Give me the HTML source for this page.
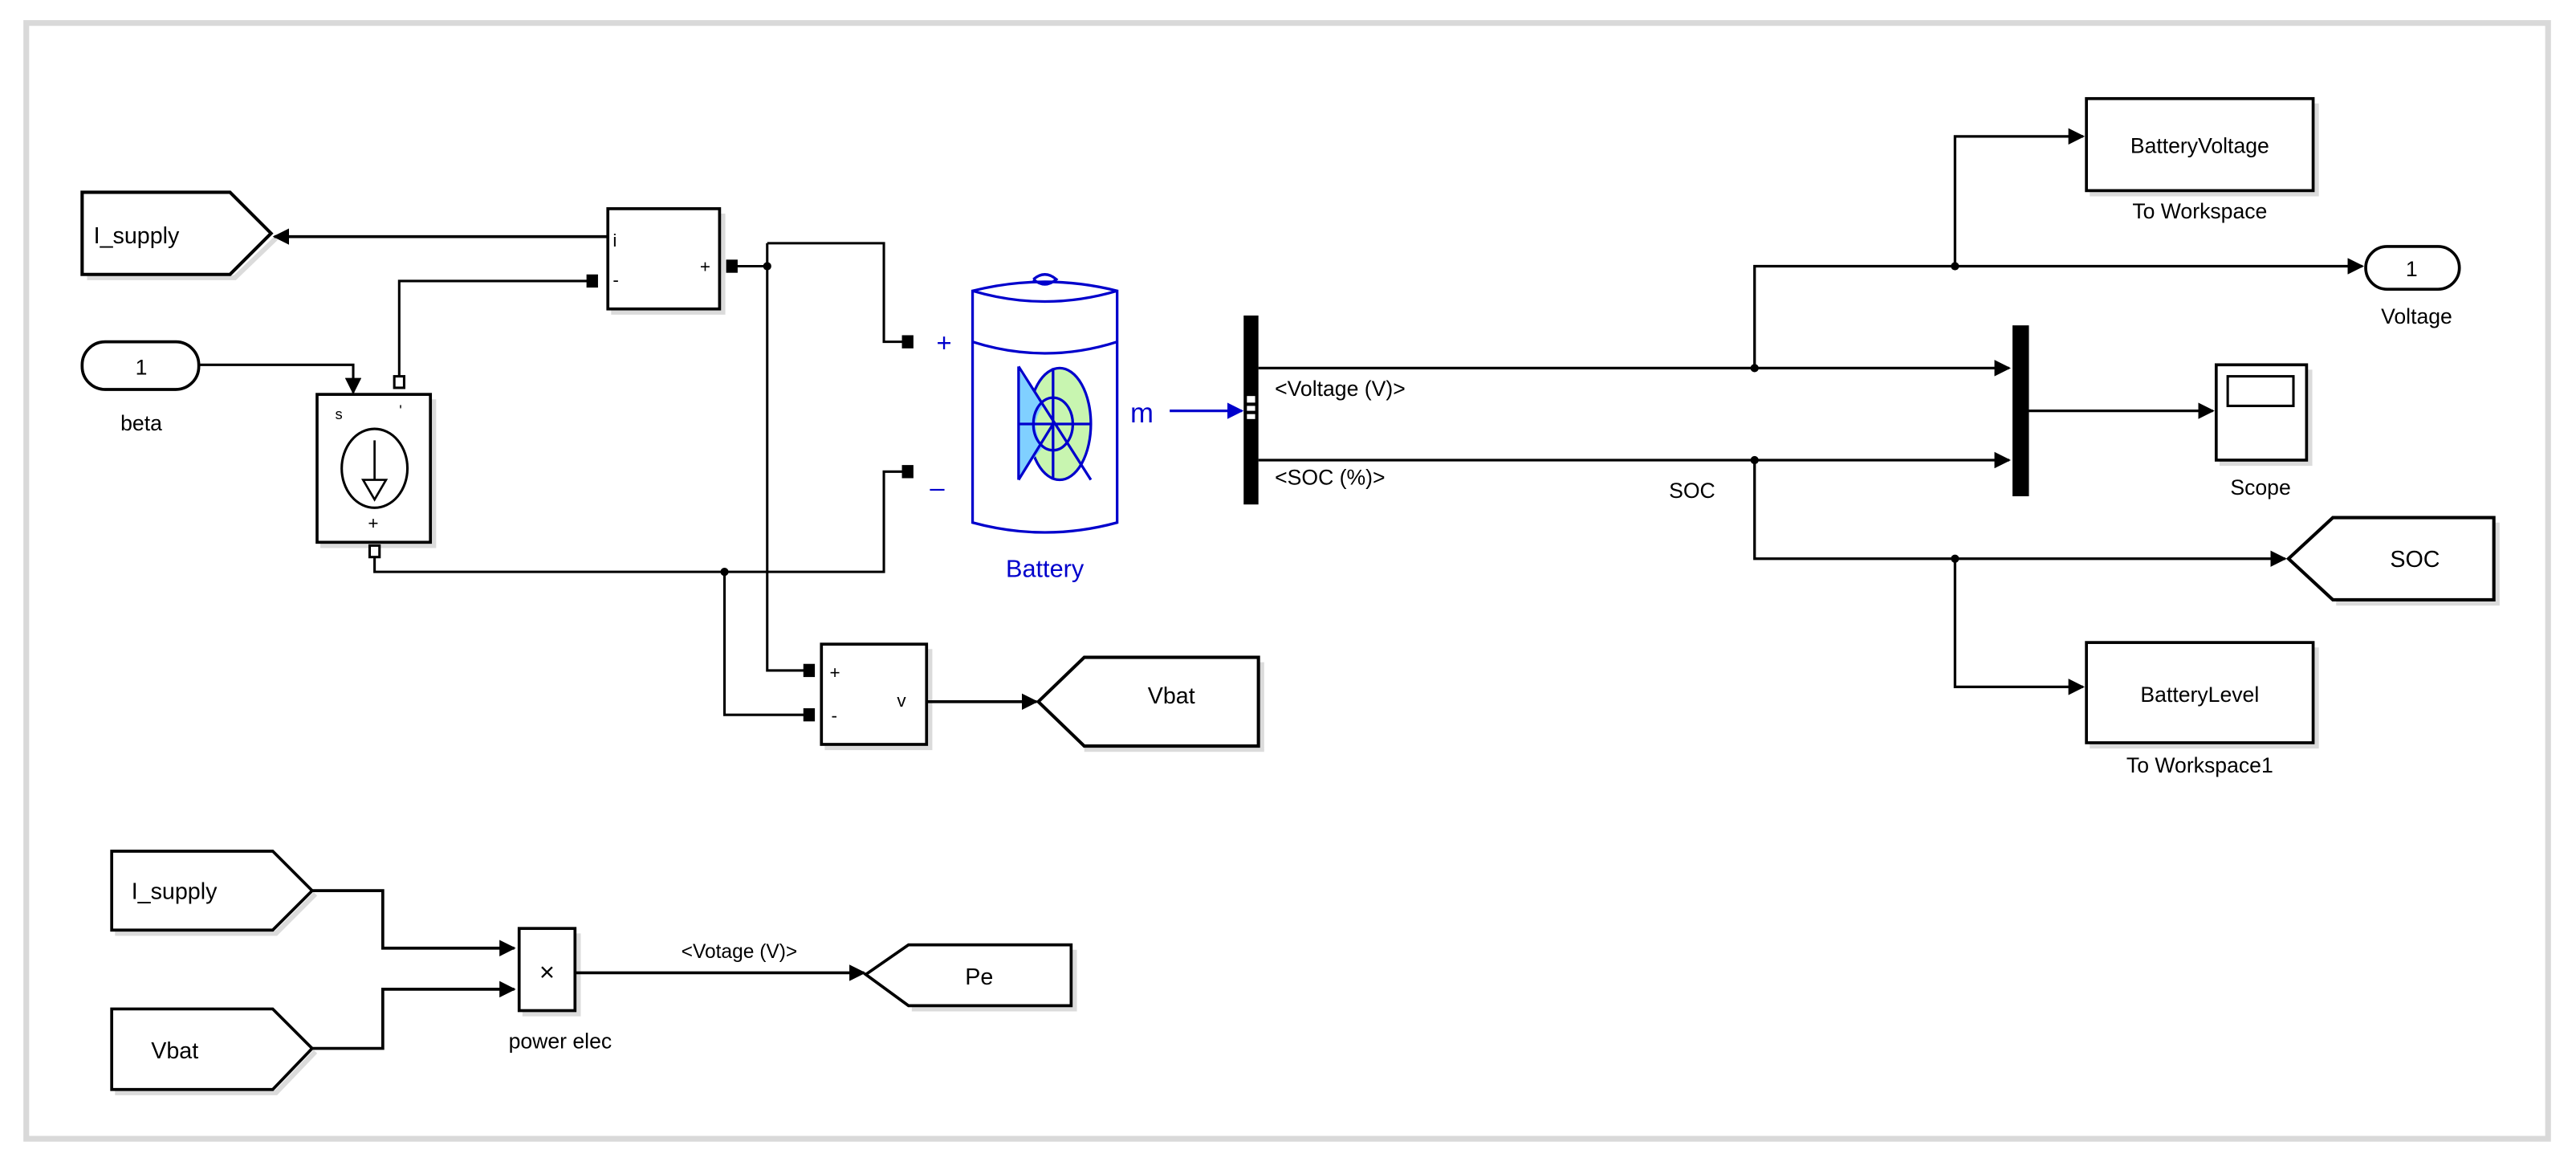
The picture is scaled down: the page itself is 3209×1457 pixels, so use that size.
<!DOCTYPE html>
<html><head><meta charset="utf-8"><style>
html,body{margin:0;padding:0;background:#fff;}
svg{display:block;}
text{font-family:"Liberation Sans",Arial,sans-serif;fill:#000;}
</style></head><body>
<svg width="3209" height="1457" viewBox="0 0 1568 712" preserveAspectRatio="none" xmlns="http://www.w3.org/2000/svg">
<defs>
<marker id="ar" markerWidth="10" markerHeight="10" refX="9" refY="5" orient="auto" markerUnits="userSpaceOnUse"><path d="M0,0 L10,5 L0,10 z" fill="#000"/></marker>
<marker id="arb" markerWidth="10" markerHeight="10" refX="9" refY="5" orient="auto" markerUnits="userSpaceOnUse"><path d="M0,0 L10,5 L0,10 z" fill="#00c"/></marker>
</defs>
<rect x="0" y="0" width="1568" height="712" fill="#fff"/>
<rect x="16" y="14" width="1535" height="679" fill="none" stroke="#d9d9d9" stroke-width="3.5"/>

<g fill="none" stroke="#000" stroke-width="1.3">
<g stroke="#ccc" stroke-width="3" opacity="0.7">
<path d="M53,169 H143 L168,145"/>
<path d="M372,190 H440 V130"/>
<path d="M195,332 H264 V243"/>
<path d="M502,455 H566 V395"/>
<path d="M660,456 H768 V403"/>
<path d="M1272,118 H1410 V63"/>
<path d="M1272,454 H1410 V394"/>
<path d="M1351,282 H1406 V225"/>
<path d="M1422,367 H1520 V318"/>
<path d="M70,568 H168 L192,544"/>
<path d="M70,665 H168 L192,640"/>
<path d="M318,617 H352 V568"/>
<path d="M555,614 H654 V578"/>
</g>
<path d="M50,117 H140 L165,142 L140,167 H50 Z" stroke-width="2" fill="#fff"/>
<rect x="370" y="127" width="68" height="61" fill="#fff" stroke-width="1.8"/>
<rect x="50" y="208" width="71" height="29" rx="14" fill="#fff" stroke-width="1.8"/>
<rect x="193" y="240" width="69" height="90" fill="#fff" stroke-width="1.8"/>
<ellipse cx="228" cy="285" rx="20" ry="24" stroke-width="1.5"/>
<path d="M228,268 V292 M221,292 H235 L228,304 Z"/>
<rect x="500" y="392" width="64" height="61" fill="#fff" stroke-width="1.8"/>
<path d="M632,427 L660,400 H766 V454 H660 Z" stroke-width="2" fill="#fff"/>
<path d="M370,144 H167" marker-end="url(#ar)" stroke-width="1.8"/>
<path d="M446,162 H467 M467,148 H538 V208 H553 M467,148 V408 H493" stroke-width="1.5"/>
<path d="M362,171 H243 V233" stroke-width="1.5"/>
<path d="M121,222 H215 V239" marker-end="url(#ar)" stroke-width="1.5"/>
<path d="M553,287 H538 V348 H228 V336 M441,348 V435 H493" stroke-width="1.5"/>
<path d="M564,427 H631" marker-end="url(#ar)" stroke-width="1.8"/>
</g>
<g fill="#000">
<rect x="357" y="167" width="7" height="8"/>
<rect x="442" y="158" width="7" height="8"/>
<rect x="549" y="204" width="7" height="8"/>
<rect x="549" y="283" width="7" height="8"/>
<rect x="489" y="404" width="7" height="8"/>
<rect x="489" y="431" width="7" height="8"/>
<rect x="240" y="229" width="6" height="7" fill="#fff" stroke="#000" stroke-width="1.5"/>
<rect x="225" y="332" width="6" height="7" fill="#fff" stroke="#000" stroke-width="1.5"/>
<circle cx="467" cy="162" r="2.5"/>
<circle cx="441" cy="348" r="2.5"/>
</g>
<g font-size="11">
<text x="373" y="150">i</text>
<text x="373" y="174">-</text>
<text x="426" y="166">+</text>
<text x="224" y="322">+</text>
<text x="204" y="255" font-size="9">s</text>
<text x="243" y="253" font-size="9">'</text>
<text x="505" y="413">+</text>
<text x="506" y="439">-</text>
<text x="546" y="430">v</text>
</g>
<text x="57" y="148" font-size="14">I_supply</text>
<text x="86" y="228" font-size="13" text-anchor="middle">1</text>
<text x="86" y="262" font-size="13" text-anchor="middle">beta</text>
<text x="713" y="428" font-size="14" text-anchor="middle">Vbat</text>

<!-- Battery -->
<g fill="none" stroke="#00c" stroke-width="1.6">
<path d="M592,177 Q636,166 680,177 V318 Q636,330 592,318 Z" fill="#fff"/>
<path d="M592,177 Q636,190 680,177"/>
<path d="M592,208 Q636,222 680,208"/>
<path d="M629,170 Q636,164 643,170 Q636,176 629,170"/>
<ellipse cx="645" cy="258" rx="19" ry="34" fill="#c8f5b0"/>
<path d="M620,225 L635,247 Q626,258 635,272 L620,290 Z" fill="#80d0ff" stroke="none"/>
<path d="M620,223 V292 M620,223 L664,292 M620,292 L641,258 M620,258 H664 M641,224 V292"/>
<ellipse cx="641" cy="258" rx="12" ry="16"/>
</g>
<text x="570" y="214" font-size="16" style="fill:#00c">+</text>
<text x="566" y="302" font-size="16" style="fill:#00c">–</text>
<text x="688" y="257" font-size="17" style="fill:#00c">m</text>
<text x="636" y="351" font-size="15" style="fill:#00c" text-anchor="middle">Battery</text>
<path d="M712,250 H756" stroke="#00c" stroke-width="1.6" fill="none" marker-end="url(#arb)"/>

<rect x="757" y="192" width="9" height="115" fill="#000"/>
<rect x="759" y="241" width="5" height="4" fill="#fff"/><rect x="759" y="247" width="5" height="3" fill="#fff"/><rect x="759" y="252" width="5" height="3" fill="#fff"/>
<rect x="1225" y="198" width="10" height="104" fill="#000"/>
<g fill="none" stroke="#000" stroke-width="1.6">
<path d="M766,224 H1223" marker-end="url(#ar)"/>
<path d="M766,280 H1223" marker-end="url(#ar)"/>
<path d="M1068,224 V162 H1438" marker-end="url(#ar)"/>
<path d="M1190,162 V83 H1268" marker-end="url(#ar)"/>
<path d="M1068,280 V340 H1391" marker-end="url(#ar)"/>
<path d="M1190,340 V418 H1268" marker-end="url(#ar)"/>
<path d="M1235,250 H1347" marker-end="url(#ar)"/>
<rect x="1270" y="60" width="138" height="56" fill="#fff" stroke-width="1.8"/>
<rect x="1270" y="391" width="138" height="61" fill="#fff" stroke-width="1.8"/>
<rect x="1440" y="150" width="57" height="26" rx="13" fill="#fff" stroke-width="1.8"/>
<rect x="1349" y="222" width="55" height="58" fill="#fff" stroke-width="1.8"/>
<rect x="1356" y="229" width="40" height="18" stroke-width="1.5"/>
<path d="M1393,340 L1420,315 H1518 V365 H1420 Z" fill="#fff" stroke-width="2"/>
</g>
<g fill="#000"><circle cx="1068" cy="224" r="2.5"/><circle cx="1190" cy="162" r="2.5"/><circle cx="1068" cy="280" r="2.5"/><circle cx="1190" cy="340" r="2.5"/></g>
<g font-size="13">
<text x="776" y="241">&lt;Voltage (V)&gt;</text>
<text x="776" y="295">&lt;SOC (%)&gt;</text>
<text x="1030" y="303" text-anchor="middle">SOC</text>
<text x="1339" y="93" text-anchor="middle">BatteryVoltage</text>
<text x="1339" y="133" text-anchor="middle">To Workspace</text>
<text x="1468" y="168" text-anchor="middle">1</text>
<text x="1471" y="197" text-anchor="middle">Voltage</text>
<text x="1376" y="301" text-anchor="middle">Scope</text>
<text x="1470" y="345" text-anchor="middle" font-size="14">SOC</text>
<text x="1339" y="427" text-anchor="middle">BatteryLevel</text>
<text x="1339" y="470" text-anchor="middle">To Workspace1</text>
</g>

<g fill="none" stroke="#000" stroke-width="1.8">
<path d="M68,518 H166 L190,542 L166,566 H68 Z" fill="#fff"/>
<path d="M68,614 H166 L190,638 L166,663 H68 Z" fill="#fff"/>
<rect x="316" y="565" width="34" height="50" fill="#fff"/>
<path d="M527,593 L553,575 H652 V612 H553 Z" fill="#fff"/>
<path d="M190,542 H233 V577 H313" marker-end="url(#ar)"/>
<path d="M190,638 H233 V602 H313" marker-end="url(#ar)"/>
<path d="M350,592 H526" marker-end="url(#ar)"/>
</g>
<text x="80" y="547" font-size="14">I_supply</text>
<text x="92" y="644" font-size="14">Vbat</text>
<text x="333" y="597" font-size="16" text-anchor="middle">×</text>
<text x="341" y="638" font-size="13" text-anchor="middle">power elec</text>
<text x="450" y="583" font-size="12" text-anchor="middle">&lt;Votage (V)&gt;</text>
<text x="596" y="599" font-size="14" text-anchor="middle">Pe</text>
</svg>
</body></html>
